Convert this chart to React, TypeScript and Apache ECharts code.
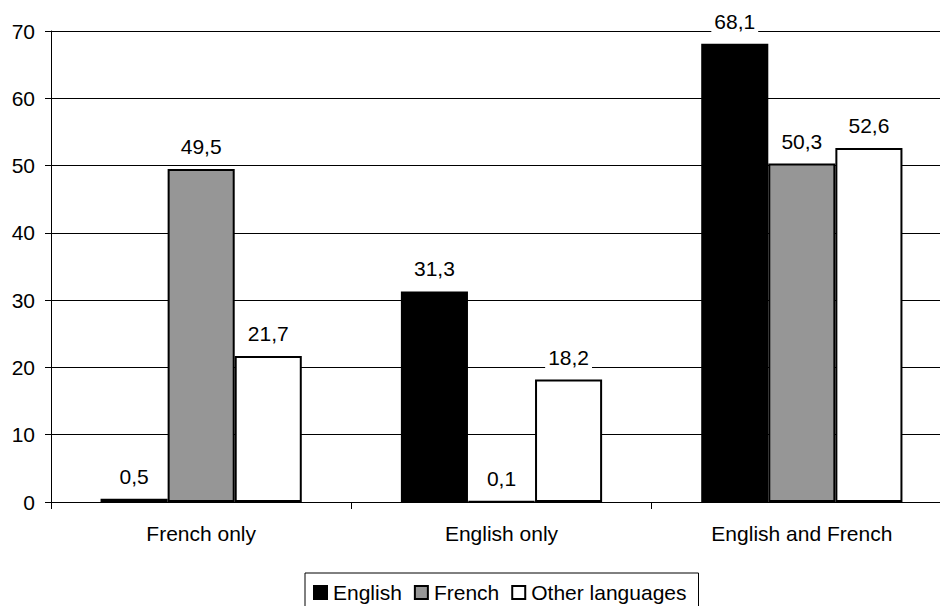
import React, { useEffect, useRef } from "react";
import * as echarts from "echarts";

const categories = ["French only", "English only", "English and French"];
const english = [0.5, 31.3, 68.1];
const french = [49.5, 0.1, 50.3];
const other = [21.7, 18.2, 52.6];
const seriesNames = ["English", "French", "Other languages"];
const yTicks = [0, 10, 20, 30, 40, 50, 60, 70];

const FONT = "'Liberation Sans', Arial, sans-serif";
const FS = 21;

export default function App() {
  const ref = useRef<HTMLDivElement>(null);
  useEffect(() => {
    document.body.style.margin = "0";
    const chart = echarts.init(ref.current!, null, { renderer: "svg" });
    const label = {
      show: true,
      position: "top" as const,
      distance: 10,
      color: "#000",
      fontFamily: FONT,
      fontSize: FS,
      backgroundColor: "#fff",
      padding: [2, 3, 2, 3],
      formatter: (p: any) => String(p.value).replace(".", ","),
    };
    const mk = (name: string, data: number[], color: string) => ({
      name,
      type: "bar",
      data,
      barGap: "0%",
      barCategoryGap: "33%",
      itemStyle: { color, borderColor: "#000", borderWidth: 2 },
      label,
    });
    chart.setOption({
      animation: false,
      backgroundColor: "#fff",
      textStyle: { fontFamily: FONT },
      grid: {
        left: 51,
        width: 901,
        top: 31,
        bottom: 104,
        containLabel: false,
        outerBoundsMode: "none",
      },
      legend: {
        data: seriesNames,
        left: 305,
        top: 573,
        borderColor: "#000",
        borderWidth: 1,
        padding: [9, 12, 9, 8],
        itemGap: 12,
        itemWidth: 13,
        itemHeight: 13,
        icon: "rect",
        textStyle: { fontFamily: FONT, fontSize: FS, color: "#000", padding: [0, 0, 0, 1] },
        itemStyle: { borderColor: "#000", borderWidth: 2 },
      },
      xAxis: {
        type: "category",
        data: categories,
        axisLine: { lineStyle: { color: "#000", width: 1 } },
        axisTick: { show: true, length: 7, lineStyle: { color: "#000" } },
        axisLabel: { color: "#000", fontSize: FS, fontFamily: FONT, margin: 21 },
      },
      yAxis: {
        type: "value",
        min: yTicks[0],
        max: yTicks[yTicks.length - 1],
        interval: 10,
        axisLine: { show: true, lineStyle: { color: "#000", width: 1 } },
        axisTick: { show: true, length: 6, lineStyle: { color: "#000" } },
        axisLabel: { color: "#000", fontSize: FS, fontFamily: FONT, margin: 16 },
        splitLine: { show: true, lineStyle: { color: "#000", width: 1 } },
      },
      series: [
        mk(seriesNames[0], english, "#000"),
        mk(seriesNames[1], french, "#969696"),
        mk(seriesNames[2], other, "#fff"),
      ],
    });
    return () => chart.dispose();
  }, []);
  return <div ref={ref} style={{ width: 940, height: 606 }} />;
}
